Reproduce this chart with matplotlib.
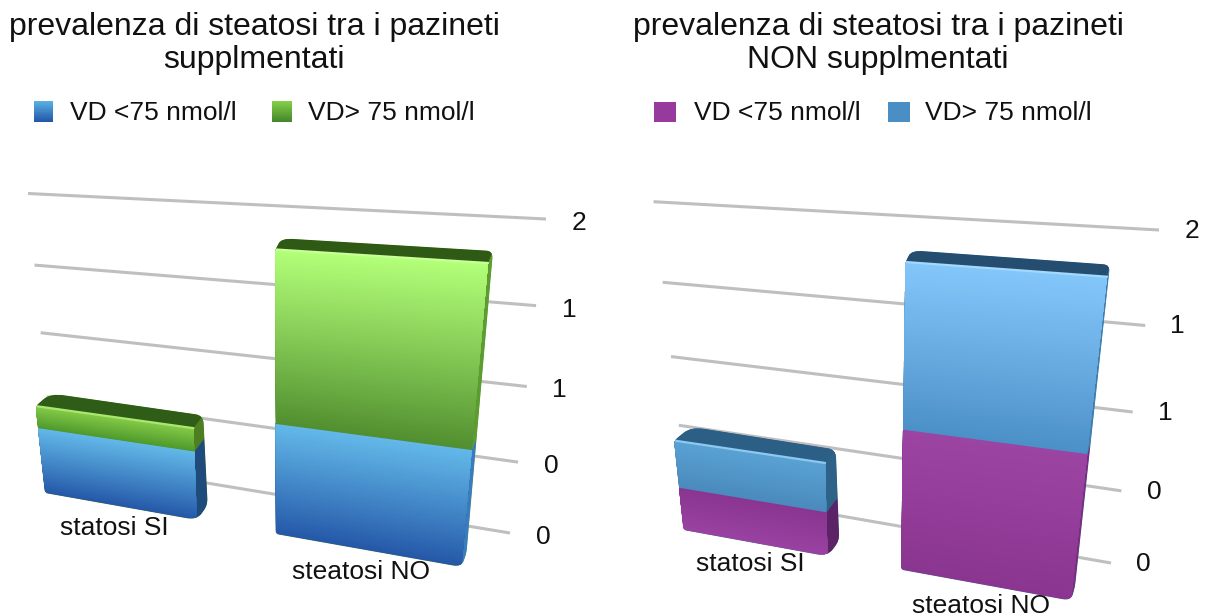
import numpy as np
import matplotlib
matplotlib.use("Agg")
import matplotlib.pyplot as plt
from matplotlib.collections import PolyCollection
from matplotlib.colors import to_rgb
from matplotlib.patches import PathPatch
from matplotlib.path import Path
from matplotlib.transforms import Transform

plt.rcParams['font.family'] = ['Liberation Sans', 'DejaVu Sans']

categories = ["statosi SI", "steatosi NO"]
series_names = ["VD <75 nmol/l", "VD> 75 nmol/l"]
left_title = "prevalenza di steatosi tra i pazineti\nsupplmentati"
right_title = "prevalenza di steatosi tra i pazineti\nNON supplmentati"
left_low = [0.475, 0.73]
left_high = [0.155, 1.02]
right_low = [0.30, 0.89]
right_high = [0.32, 0.91]
tick_values = [0, 0.5, 1, 1.5, 2]
tick_labels = ["0", "0", "1", "1", "2"]

BAR_W = 0.68
XLO, XHI = -0.34, 1.34


class Homography(Transform):
    input_dims = 2
    output_dims = 2

    def __init__(self, src, dst):
        super().__init__()
        A, b = [], []
        for (x, y), (u, v) in zip(src, dst):
            A.append([x, y, 1, 0, 0, 0, -u * x, -u * y])
            A.append([0, 0, 0, x, y, 1, -v * x, -v * y])
            b += [u, v]
        self.m = np.append(np.linalg.solve(np.array(A, float), np.array(b, float)), 1).reshape(3, 3)

    def transform_non_affine(self, values):
        p = np.column_stack([np.asarray(values, float), np.ones(len(values))]) @ self.m.T
        return p[:, :2] / p[:, 2:]


def quad(pts, vtop):
    src = [(XLO, 0), (XHI, 0), (XHI, vtop), (XLO, vtop)]
    return Homography(src, pts)


def shifted(pts, offs):
    return [(p[0] + o[0], p[1] + o[1]) for p, o in zip(pts, offs)]


def lerp(c0, c1, n):
    c0, c1 = np.array(to_rgb(c0)), np.array(to_rgb(c1))
    return [tuple(c0 + (c1 - c0) * i / (n - 1)) for i in range(n)]


def rounded_path(pts, radii):
    pts = np.asarray(pts, float)
    n = len(pts)
    verts, codes = [], []
    for i in range(n):
        p, a, b = pts[i], pts[i - 1], pts[(i + 1) % n]
        d0 = (a - p) / np.linalg.norm(a - p)
        d1 = (b - p) / np.linalg.norm(b - p)
        r0 = min(radii[i], np.linalg.norm(a - p) * 0.45)
        r1 = min(radii[i], np.linalg.norm(b - p) * 0.45)
        verts += [p + d0 * r0, p, p + d1 * r1]
        codes += [Path.MOVETO if i == 0 else Path.LINETO, Path.CURVE3, Path.CURVE3]
    verts.append(verts[0])
    codes.append(Path.CLOSEPOLY)
    return Path(np.array(verts), codes)


fig = plt.figure(figsize=(12.15, 6.16), dpi=100)
ax = fig.add_axes([0, 0, 1, 1])
ax.set_xlim(0, 1215)
ax.set_ylim(616, 0)
ax.axis("off")


def strips(x0, x1, v0, v1, c0, c1, tr, z, clip, n=60):
    vs = np.linspace(v0, v1, n + 1)
    verts = [[(x0, a), (x1, a), (x1, v1), (x0, v1)] for a in vs[:-1]]
    coll = PolyCollection(verts, facecolors=lerp(c0, c1, n), edgecolors="none",
                          transform=tr + ax.transData, zorder=z)
    ax.add_collection(coll)
    coll.set_clip_path(clip, ax.transData)


def panel(low, high, wall, front, back, vtop, styles, lab_off, tick_off, z0):
    wall_t = quad(wall, 2)
    front_t = quad(front, vtop)
    back_t = quad(back, vtop)
    for v in tick_values:
        ax.plot([XLO, XHI], [v, v], color="#bfbfbf", lw=2.2, solid_capstyle="butt",
                transform=wall_t + ax.transData, zorder=z0)
    for v, lab in zip(tick_values, tick_labels):
        ax.annotate(lab, xy=(XHI, v), xycoords=wall_t + ax.transData, xytext=tick_off,
                    textcoords="offset pixels", ha="center", va="center", fontsize=19, color="#111111")
    for i, cat in enumerate(categories):
        x0, x1 = i - BAR_W / 2, i + BAR_W / 2
        a, b = low[i], low[i] + high[i]
        s = styles[i]
        zb = z0 + 1 + i * 5
        f = front_t.transform([(x0, 0), (x1, 0), (x1, b), (x0, b)])
        k = back_t.transform([(x1, 0), (x1, b), (x0, b)])
        outline = [f[0], f[1], k[0], k[1], k[2], f[3]]
        clip = rounded_path(outline, s["radii"])
        ax.add_patch(PathPatch(clip, facecolor=s["side_high"], edgecolor="none", zorder=zb))
        # side face
        for v0, v1, c in [(0, a, s["side_low"]), (a, b, s["side_high"])]:
            p0 = front_t.transform([(x1, v0), (x1, v1)])
            p1 = back_t.transform([(x1, v1), (x1, v0)])
            poly = ax.fill(*np.vstack([p0, p1]).T, color=c, lw=0, zorder=zb + 1)[0]
            poly.set_clip_path(clip, ax.transData)
        # top face
        p0 = front_t.transform([(x0, b), (x1, b)])
        p1 = back_t.transform([(x1, b), (x0, b)])
        poly = ax.fill(*np.vstack([p0, p1]).T, color=s["top"], lw=0, zorder=zb + 2)[0]
        poly.set_clip_path(clip, ax.transData)
        # front faces
        strips(x0, x1, 0, a, s["low"][0], s["low"][1], front_t, zb + 3, clip)
        strips(x0, x1, a, b, s["high"][0], s["high"][1], front_t, zb + 3, clip)
        # highlight of the bevel
        line = ax.plot([x0, x1], [b, b], color=s["rim"], lw=1.6, solid_capstyle="round",
                       transform=front_t + ax.transData, zorder=zb + 4)[0]
        line.set_clip_path(clip, ax.transData)
        ax.annotate(cat, xy=(i, 0), xycoords=front_t + ax.transData, xytext=lab_off,
                    textcoords="offset pixels", ha="center", va="center", fontsize=19,
                    color="#111111", zorder=30)


def swatch(x, y, w, h, c_top, c_bot):
    ys = np.linspace(y, y + h, 31)
    cols = lerp(c_top, c_bot, 30)
    verts = [[(x, a), (x + w, a), (x + w, y + h), (x, y + h)] for a in ys[:-1]]
    ax.add_collection(PolyCollection(verts, facecolors=cols, edgecolors="none"))


ROUND_SMALL = [3, 11, 7, 8, 14, 4]
ROUND_LARGE = [3, 9, 5, 7, 12, 4]

# left panel
l_front = [(45, 493), (461.5, 567), (488, 263), (17, 233)]
panel(left_low, left_high,
      [(52, 457.5), (510, 533), (546, 219), (28, 193.5)],
      l_front,
      shifted(l_front, [(16, -15), (5, -14), (5, -12), (12, -10)]),
      1.75,
      [dict(low=("#2558a8", "#62b8e8"), high=("#4f9a2c", "#86cc48"), top="#2f5c16", rim="#a8e870",
            side_low="#1f4a7c", side_high="#4d7f22", radii=ROUND_SMALL),
       dict(low=("#2558a8", "#62b8e8"), high=("#528f30", "#b2ff78"), top="#2f5a16", rim="#c8ff98",
            side_low="#3a7cc0", side_high="#5c9c30", radii=ROUND_LARGE)],
      (-4, -22), (33, -4), 2)

# right panel
r_front = [(683.5, 530), (1071, 600.7), (1107, 276.7), (653.5, 243.6)]
panel(right_low, right_high,
      [(686, 489), (1111, 563), (1159, 230), (653.5, 201.7)],
      r_front,
      shifted(r_front, [(18, -16), (4, -14), (3, -12), (14, -11)]),
      1.80,
      [dict(low=("#9a42a2", "#8a3590"), high=("#4a8abc", "#5aa2d4"), top="#2c5f85", rim="#8cc8f0",
            side_low="#5c2466", side_high="#2f6288", radii=ROUND_SMALL),
       dict(low=("#8a3590", "#9c44a2"), high=("#4c90c8", "#82c6fa"), top="#254d70", rim="#a4d8ff",
            side_low="#7a2e80", side_high="#3f7fae", radii=ROUND_LARGE)],
      (-3, -21), (32.5, -1), 2)

# titles
ax.text(254, 43.5, left_title, ha="center", va="center", fontsize=23, linespacing=1.14, color="#111111")
ax.text(878, 43.5, right_title, ha="center", va="center", fontsize=23, linespacing=1.14, color="#111111")

# legends
swatch(34, 101, 19, 21, "#5ab0e4", "#2256a8")
swatch(272, 101, 20, 21, "#84d048", "#44862a")
swatch(654, 102, 22, 20, "#963a9e", "#963a9e")
swatch(888, 102, 22, 20, "#4a8ec6", "#4a8ec6")
for x, lab in [(70, series_names[0]), (308, series_names[1]), (694, series_names[0]), (925, series_names[1])]:
    ax.text(x, 113, lab, ha="left", va="center", fontsize=19, color="#111111")

fig.savefig("out.png", dpi=100)
